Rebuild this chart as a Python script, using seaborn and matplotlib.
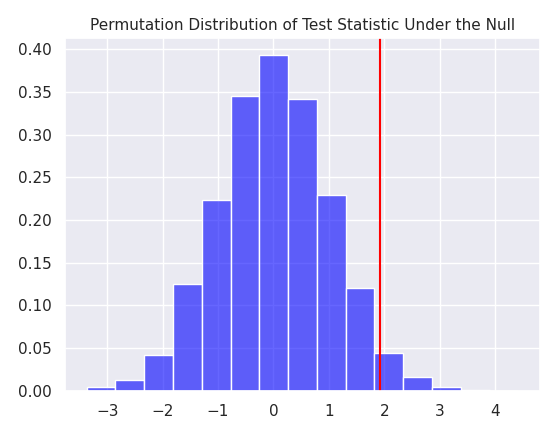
import numpy as np
import pandas as pd
import matplotlib
matplotlib.use("Agg")
import matplotlib.pyplot as plt
import seaborn as sns

bin_edges = np.linspace(-3.37, 4.42, 16)
density = [0.004, 0.013, 0.042, 0.125, 0.223, 0.345, 0.393, 0.342,
           0.229, 0.120, 0.044, 0.016, 0.005, 0.0006, 0.0003]
observed_stat = 1.93

sns.set_theme(style="darkgrid")
fig, ax = plt.subplots(figsize=(5.58, 4.37), dpi=100)

centers = (bin_edges[:-1] + bin_edges[1:]) / 2
df = pd.DataFrame({"stat": centers, "w": density})
sns.histplot(data=df, x="stat", weights="w", bins=list(bin_edges), stat="count",
             color="blue", alpha=0.6, edgecolor="white", linewidth=1, ax=ax)
ax.axvline(observed_stat, color="red")

ax.set_title("Permutation Distribution of Test Statistic Under the Null", fontsize=11)
ax.set_xlabel("")
ax.set_ylabel("")
ax.set_xticks(range(-3, 5))
ax.set_yticks(np.arange(0, 0.41, 0.05))

plt.tight_layout()
plt.savefig("out.png", dpi=100)
